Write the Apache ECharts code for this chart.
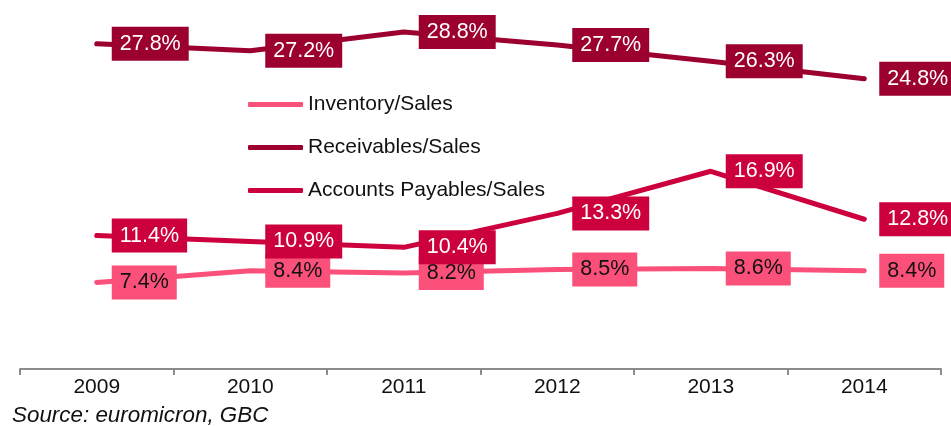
<!DOCTYPE html>
<html>
<head>
<meta charset="utf-8">
<script src="https://cdn.jsdelivr.net/npm/echarts@6/dist/echarts.min.js"></script>
<style>
  html, body { margin: 0; padding: 0; background: #fff; }
  #chart { width: 951px; height: 426px; }
</style>
</head>
<body>
<div id="chart"></div>
<script>
const years = ['2009', '2010', '2011', '2012', '2013', '2014'];
const inventory = [7.4, 8.4, 8.2, 8.5, 8.6, 8.4];
const receivables = [27.8, 27.2, 28.8, 27.7, 26.3, 24.8];
const payables = [11.4, 10.9, 10.4, 13.3, 16.9, 12.8];

const font = 'Liberation Sans, Arial, sans-serif';

function makeSeries(name, data, color, textColor) {
  return {
    name: name,
    type: 'line',
    data: data,
    symbol: 'circle',
    symbolSize: 4,
    itemStyle: { color: color },
    lineStyle: { color: color, width: 5, cap: 'round', join: 'round' },
    label: {
      show: true,
      position: 'right',
      distance: 13,
      formatter: p => p.value + '%',
      color: textColor,
      backgroundColor: color,
      padding: [7, 8, 5, 8],
      fontSize: 21.5,
      fontFamily: font
    }
  };
}

let myChart = echarts.init(document.getElementById('chart'));
myChart.setOption({
  animation: false,
  grid: { left: 20, right: 10, top: 18, bottom: 57 },
  legend: {
    orient: 'vertical',
    left: 243,
    top: 89,
    icon: 'roundRect',
    itemWidth: 55,
    itemHeight: 5,
    itemGap: 22,
    textStyle: { fontSize: 21, fontFamily: font, color: '#111' },
    data: ['Inventory/Sales', 'Receivables/Sales', 'Accounts Payables/Sales']
  },
  xAxis: {
    type: 'category',
    data: years,
    boundaryGap: true,
    axisLine: { lineStyle: { color: '#8c8c8c', width: 2 } },
    axisTick: { show: true, length: 6, interval: 0, lineStyle: { color: '#8c8c8c', width: 2 } },
    axisLabel: { margin: 8, fontSize: 21, fontFamily: font, color: '#111' }
  },
  yAxis: {
    type: 'value',
    min: 0,
    max: 30,
    show: false,
    splitLine: { show: false }
  },
  graphic: [
    {
      type: 'text',
      left: 12,
      top: 405,
      style: {
        text: 'Source: euromicron, GBC',
        font: 'italic 22.4px ' + font,
        fill: '#111'
      }
    }
  ],
  series: [
    makeSeries('Inventory/Sales', inventory, '#fa507a', '#111'),
    makeSeries('Receivables/Sales', receivables, '#9b002f', '#fff'),
    makeSeries('Accounts Payables/Sales', payables, '#cc003c', '#fff')
  ]
});
</script>
</body>
</html>
